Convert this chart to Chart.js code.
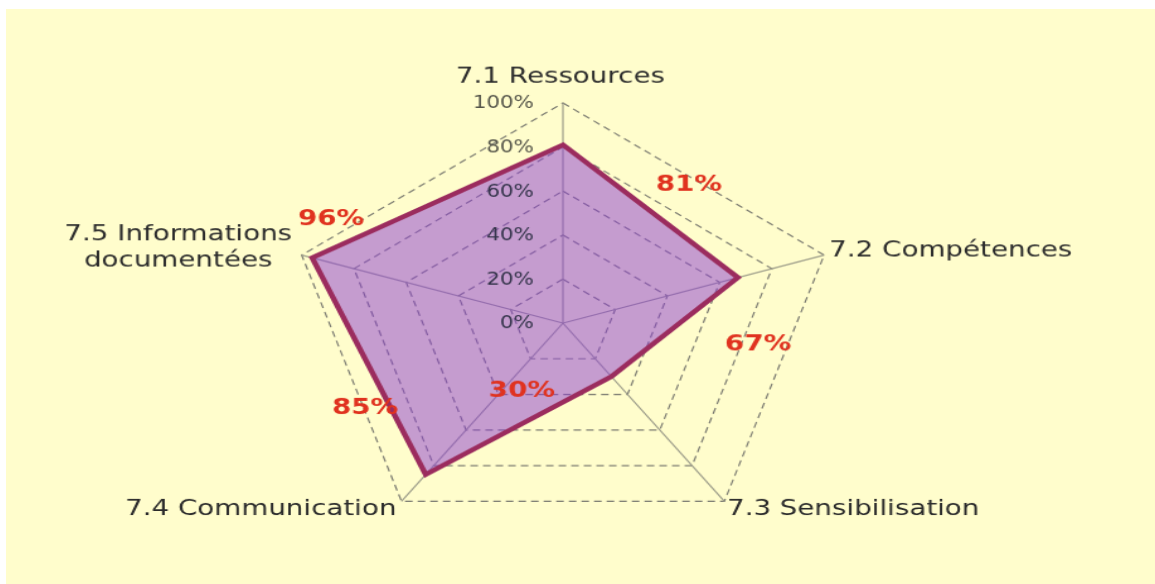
<!DOCTYPE html>
<html>
<head>
<meta charset="utf-8">
<script src="https://cdn.jsdelivr.net/npm/chart.js@4.4.1/dist/chart.umd.min.js"></script>
<style>
  html, body { margin: 0; padding: 0; background: #fff; }
  #frame {
    position: absolute; left: 6px; top: 9px;
    width: 1149px; height: 575px;
    background: #FFFDCC; overflow: hidden;
  }
  #radar {
    position: absolute; left: 0; top: 0;
    transform: scale(1.26, 1.01); transform-origin: 0 0;
  }
</style>
</head>
<body>
<div id="frame"><canvas id="radar" width="912" height="570"></canvas></div>
<script>
const categories = ['7.1 Ressources', '7.2 Compétences', '7.3 Sensibilisation', '7.4 Communication', ['7.5 Informations', 'documentées']];
const values = [81, 67, 30, 85, 96];
const tickValues = [0, 20, 40, 60, 80, 100];

// where each axis label sits relative to its outer vertex
const labelPlacement = [
  { align: 'center', dx: -2, dy: -26 },
  { align: 'left', dx: 4, dy: -4 },
  { align: 'left', dx: 2, dy: 8 },
  { align: 'right', dx: -4, dy: 8 },
  { align: 'center', dx: -98, dy: -7 }
];
// where each red value label sits relative to its point
const valueOffsets = [[100, 40], [16, 66], [-71, 14], [-48, -66], [15, -38]];

const overlay = {
  id: 'overlay',
  afterDatasetsDraw(chart) {
    const ctx = chart.ctx;
    const scale = chart.scales.r;
    ctx.save();

    // tick labels, right aligned left of the vertical axis
    ctx.font = '17px "DejaVu Sans"';
    ctx.textAlign = 'right';
    ctx.textBaseline = 'middle';
    tickValues.forEach(v => {
      const p = scale.getPointPositionForValue(0, v);
      ctx.fillStyle = v >= 80 ? '#55554a' : '#33334a';
      ctx.fillText(v + '%', scale.xCenter - 23, p.y + 1);
    });

    // axis labels
    ctx.font = '22px "DejaVu Sans"';
    ctx.fillStyle = '#2b2b2b';
    categories.forEach((lab, i) => {
      const p = scale.getPointPosition(i, scale.drawingArea);
      const pl = labelPlacement[i];
      const lines = Array.isArray(lab) ? lab : [lab];
      ctx.textAlign = pl.align;
      const lh = 26;
      const y0 = p.y + pl.dy - (lines.length - 1) * lh / 2;
      lines.forEach((t, k) => ctx.fillText(t, p.x + pl.dx, y0 + k * lh));
    });

    // value labels
    ctx.font = 'bold 22px "DejaVu Sans"';
    ctx.fillStyle = '#e0321f';
    ctx.textAlign = 'center';
    values.forEach((v, i) => {
      const p = scale.getPointPositionForValue(i, v);
      ctx.fillText(v + '%', p.x + valueOffsets[i][0], p.y + valueOffsets[i][1]);
    });
    ctx.restore();
  }
};

new Chart(document.getElementById('radar'), {
  type: 'radar',
  data: {
    labels: categories,
    datasets: [{
      data: values,
      backgroundColor: 'rgba(140, 60, 210, 0.5)',
      borderColor: '#9b2c5e',
      borderWidth: 4.5,
      pointRadius: 0,
      fill: true
    }]
  },
  options: {
    responsive: false,
    animation: false,
    devicePixelRatio: 1,
    layout: { padding: { left: 222, right: 250, top: 93, bottom: 41 } },
    plugins: { legend: { display: false }, tooltip: { enabled: false } },
    scales: {
      r: {
        min: 0,
        max: 100,
        ticks: { display: false, stepSize: 20 },
        pointLabels: { display: false },
        angleLines: { color: '#9a9a88', lineWidth: 1.2 },
        grid: { color: '#7a7a70', lineWidth: 1.2 },
        border: { dash: [6, 4] }
      }
    }
  },
  plugins: [overlay]
});
</script>
</body>
</html>
